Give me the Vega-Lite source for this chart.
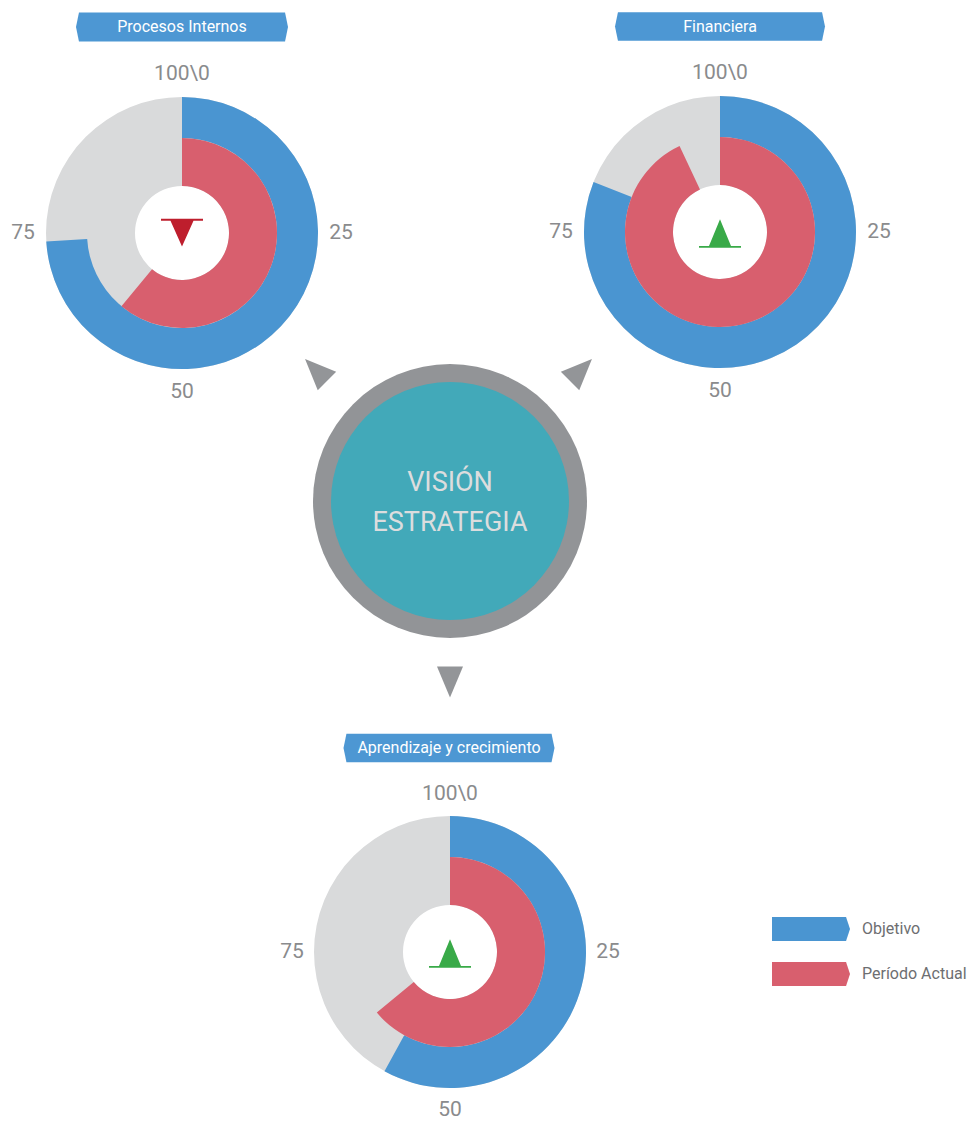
{
  "$schema": "https://vega.github.io/schema/vega-lite/v6.json",
  "width": 974,
  "height": 1121,
  "padding": 0,
  "autosize": "none",
  "background": "white",
  "config": {"view": {"stroke": null}},
  "datasets": {
    "perspectivas": [
      {"perspectiva": "Procesos Internos", "serie": "Objetivo", "valor": 74},
      {"perspectiva": "Procesos Internos", "serie": "Período Actual", "valor": 61},
      {"perspectiva": "Financiera", "serie": "Objetivo", "valor": 81},
      {"perspectiva": "Financiera", "serie": "Período Actual", "valor": 93},
      {"perspectiva": "Aprendizaje y crecimiento", "serie": "Objetivo", "valor": 58},
      {"perspectiva": "Aprendizaje y crecimiento", "serie": "Período Actual", "valor": 64}
    ],
    "indicadores": [
      {"perspectiva": "Procesos Internos", "tendencia": "baja"},
      {"perspectiva": "Financiera", "tendencia": "sube"},
      {"perspectiva": "Aprendizaje y crecimiento", "tendencia": "sube"}
    ],
    "marcas": [
      {"marca": 0, "etiqueta": "100\\0"},
      {"marca": 25, "etiqueta": "25"},
      {"marca": 50, "etiqueta": "50"},
      {"marca": 75, "etiqueta": "75"}
    ],
    "centro": [{"concepto": "VISIÓN ESTRATEGIA"}]
  },
  "layer": [
    {
      "data": {"name": "centro"},
      "encoding": {
        "x": {"datum": 450, "type": "quantitative", "scale": {"domain": [0, 974], "nice": false, "zero": false}, "axis": null},
        "y": {"datum": 501, "type": "quantitative", "scale": {"domain": [0, 1121], "reverse": true, "nice": false, "zero": false}, "axis": null}
      },
      "layer": [
        {"mark": {"type": "arc", "theta": 0, "theta2": 6.2832, "radius": 137, "radius2": 0, "color": "#929497"}},
        {"mark": {"type": "arc", "theta": 0, "theta2": 6.2832, "radius": 119, "radius2": 0, "color": "#42A9B9"}},
        {"mark": {"type": "text", "align": "center", "baseline": "alphabetic", "lineBreak": " ", "lineHeight": 40, "font": "Roboto, Liberation Sans, sans-serif", "fontSize": 27, "color": "#DCDDDE"},
         "encoding": {"y": {"datum": 491, "type": "quantitative"}, "text": {"field": "concepto"}}},
        {"mark": {"type": "point", "shape": "M -0.84 -1 L 0.84 -1 L 0 1 Z", "size": 961, "angle": 135, "filled": true, "opacity": 1, "strokeWidth": 0, "color": "#939598"},
         "encoding": {"x": {"datum": 316, "type": "quantitative"}, "y": {"datum": 370, "type": "quantitative"}}},
        {"mark": {"type": "point", "shape": "M -0.84 -1 L 0.84 -1 L 0 1 Z", "size": 961, "angle": 225, "filled": true, "opacity": 1, "strokeWidth": 0, "color": "#939598"},
         "encoding": {"x": {"datum": 581, "type": "quantitative"}, "y": {"datum": 370, "type": "quantitative"}}},
        {"mark": {"type": "point", "shape": "M -0.84 -1 L 0.84 -1 L 0 1 Z", "size": 961, "angle": 0, "filled": true, "opacity": 1, "strokeWidth": 0, "color": "#939598"},
         "encoding": {"x": {"datum": 450, "type": "quantitative"}, "y": {"datum": 682, "type": "quantitative"}}}
      ]
    },
    {
      "data": {"name": "perspectivas"},
      "encoding": {
        "x": {"datum": 182, "type": "quantitative", "scale": {"domain": [0, 974], "nice": false, "zero": false}, "axis": null},
        "y": {"datum": 233, "type": "quantitative", "scale": {"domain": [0, 1121], "reverse": true, "nice": false, "zero": false}, "axis": null}
      },
      "layer": [
        {"transform": [{"filter": "datum.perspectiva === 'Procesos Internos' && datum.serie === 'Objetivo'"}],
         "mark": {"type": "arc", "theta": 0, "theta2": 6.2832, "radius": 136, "radius2": 47, "color": "#D9DADB"}},
        {"transform": [{"filter": "datum.perspectiva === 'Procesos Internos' && datum.serie === 'Objetivo'"}],
         "mark": {"type": "arc", "radius": 136, "radius2": 95},
         "encoding": {
           "theta": {"field": "valor", "type": "quantitative", "stack": null, "scale": {"domain": [0, 100], "range": [0, 6.283185307179586], "zero": true}},
           "color": {"field": "serie", "type": "nominal", "scale": {"domain": ["Objetivo", "Período Actual"], "range": ["#4A95D1", "#D85F6E"]},
             "legend": {"orient": "none", "legendX": 799, "legendY": 917, "title": null, "symbolType": "M -3.25 -1 L 2.92 -1 L 3.25 0 L 2.92 1 L -3.25 1 Z", "symbolSize": 576, "symbolStrokeWidth": 0, "symbolOpacity": 1, "labelFont": "Roboto, Liberation Sans, sans-serif", "labelFontSize": 16, "labelColor": "#6D6E71", "labelOffset": 39, "rowPadding": 21, "padding": 0}}
         }},
        {"transform": [{"filter": "datum.perspectiva === 'Procesos Internos' && datum.serie === 'Período Actual'"}],
         "mark": {"type": "arc", "radius": 95, "radius2": 47},
         "encoding": {
           "theta": {"field": "valor", "type": "quantitative", "stack": null},
           "color": {"field": "serie", "type": "nominal"}
         }},
        {"data": {"name": "marcas"},
         "mark": {"type": "text", "radius": 159, "align": "center", "baseline": "middle", "font": "Roboto, Liberation Sans, sans-serif", "fontSize": 21, "color": "#8A8B8D"},
         "encoding": {"theta": {"field": "marca", "type": "quantitative"}, "text": {"field": "etiqueta"}}},
        {"transform": [{"filter": "datum.perspectiva === 'Procesos Internos' && datum.serie === 'Objetivo'"}],
         "mark": {"type": "point", "shape": "M -1 0 L -0.972 -0.136 L 0.972 -0.136 L 1 0 L 0.972 0.136 L -0.972 0.136 Z", "size": 44944, "filled": true, "opacity": 1, "strokeWidth": 0, "color": "#4D97D3"},
         "encoding": {"y": {"datum": 27, "type": "quantitative"}}},
        {"transform": [{"filter": "datum.perspectiva === 'Procesos Internos' && datum.serie === 'Objetivo'"}],
         "mark": {"type": "text", "align": "center", "baseline": "middle", "font": "Roboto, Liberation Sans, sans-serif", "fontSize": 16, "color": "white"},
         "encoding": {"y": {"datum": 27, "type": "quantitative"}, "text": {"field": "perspectiva"}}},
        {"data": {"name": "indicadores"},
         "transform": [{"filter": "datum.perspectiva === 'Procesos Internos'"}],
         "mark": {"type": "point", "size": 1764, "filled": true, "opacity": 1, "strokeWidth": 0},
         "encoding": {
           "shape": {"field": "tendencia", "type": "nominal", "scale": {"domain": ["baja", "sube"], "range": ["M -1 -0.676 L 1 -0.676 L 1 -0.581 L -1 -0.581 Z M -0.548 -0.581 L 0.548 -0.581 L 0 0.643 Z", "M 0 -0.605 L 0.524 0.667 L -0.524 0.667 Z M -1 0.667 L 1 0.667 L 1 0.748 L -1 0.748 Z"]}, "legend": null},
           "fill": {"field": "tendencia", "type": "nominal", "scale": {"domain": ["baja", "sube"], "range": ["#BE1E2D", "#39AA48"]}, "legend": null}
         }}
      ]
    },
    {
      "data": {"name": "perspectivas"},
      "encoding": {
        "x": {"datum": 720, "type": "quantitative", "scale": {"domain": [0, 974], "nice": false, "zero": false}, "axis": null},
        "y": {"datum": 232, "type": "quantitative", "scale": {"domain": [0, 1121], "reverse": true, "nice": false, "zero": false}, "axis": null}
      },
      "layer": [
        {"transform": [{"filter": "datum.perspectiva === 'Financiera' && datum.serie === 'Objetivo'"}],
         "mark": {"type": "arc", "theta": 0, "theta2": 6.2832, "radius": 136, "radius2": 47, "color": "#D9DADB"}},
        {"transform": [{"filter": "datum.perspectiva === 'Financiera' && datum.serie === 'Objetivo'"}],
         "mark": {"type": "arc", "radius": 136, "radius2": 95},
         "encoding": {
           "theta": {"field": "valor", "type": "quantitative", "stack": null},
           "color": {"field": "serie", "type": "nominal"}
         }},
        {"transform": [{"filter": "datum.perspectiva === 'Financiera' && datum.serie === 'Período Actual'"}],
         "mark": {"type": "arc", "radius": 95, "radius2": 47},
         "encoding": {
           "theta": {"field": "valor", "type": "quantitative", "stack": null},
           "color": {"field": "serie", "type": "nominal"}
         }},
        {"data": {"name": "marcas"},
         "mark": {"type": "text", "radius": 159, "align": "center", "baseline": "middle", "font": "Roboto, Liberation Sans, sans-serif", "fontSize": 21, "color": "#8A8B8D"},
         "encoding": {"theta": {"field": "marca", "type": "quantitative"}, "text": {"field": "etiqueta"}}},
        {"transform": [{"filter": "datum.perspectiva === 'Financiera' && datum.serie === 'Objetivo'"}],
         "mark": {"type": "point", "shape": "M -1 0 L -0.972 -0.136 L 0.972 -0.136 L 1 0 L 0.972 0.136 L -0.972 0.136 Z", "size": 44100, "filled": true, "opacity": 1, "strokeWidth": 0, "color": "#4D97D3"},
         "encoding": {"y": {"datum": 26.5, "type": "quantitative"}}},
        {"transform": [{"filter": "datum.perspectiva === 'Financiera' && datum.serie === 'Objetivo'"}],
         "mark": {"type": "text", "align": "center", "baseline": "middle", "font": "Roboto, Liberation Sans, sans-serif", "fontSize": 16, "color": "white"},
         "encoding": {"y": {"datum": 26.5, "type": "quantitative"}, "text": {"field": "perspectiva"}}},
        {"data": {"name": "indicadores"},
         "transform": [{"filter": "datum.perspectiva === 'Financiera'"}],
         "mark": {"type": "point", "size": 1764, "filled": true, "opacity": 1, "strokeWidth": 0},
         "encoding": {
           "shape": {"field": "tendencia", "type": "nominal", "legend": null},
           "fill": {"field": "tendencia", "type": "nominal", "legend": null}
         }}
      ]
    },
    {
      "data": {"name": "perspectivas"},
      "encoding": {
        "x": {"datum": 450, "type": "quantitative", "scale": {"domain": [0, 974], "nice": false, "zero": false}, "axis": null},
        "y": {"datum": 952, "type": "quantitative", "scale": {"domain": [0, 1121], "reverse": true, "nice": false, "zero": false}, "axis": null}
      },
      "layer": [
        {"transform": [{"filter": "datum.perspectiva === 'Aprendizaje y crecimiento' && datum.serie === 'Objetivo'"}],
         "mark": {"type": "arc", "theta": 0, "theta2": 6.2832, "radius": 136, "radius2": 47, "color": "#D9DADB"}},
        {"transform": [{"filter": "datum.perspectiva === 'Aprendizaje y crecimiento' && datum.serie === 'Objetivo'"}],
         "mark": {"type": "arc", "radius": 136, "radius2": 95},
         "encoding": {
           "theta": {"field": "valor", "type": "quantitative", "stack": null},
           "color": {"field": "serie", "type": "nominal"}
         }},
        {"transform": [{"filter": "datum.perspectiva === 'Aprendizaje y crecimiento' && datum.serie === 'Período Actual'"}],
         "mark": {"type": "arc", "radius": 95, "radius2": 47},
         "encoding": {
           "theta": {"field": "valor", "type": "quantitative", "stack": null},
           "color": {"field": "serie", "type": "nominal"}
         }},
        {"data": {"name": "marcas"},
         "mark": {"type": "text", "radius": 158, "align": "center", "baseline": "middle", "font": "Roboto, Liberation Sans, sans-serif", "fontSize": 21, "color": "#8A8B8D"},
         "encoding": {"theta": {"field": "marca", "type": "quantitative"}, "text": {"field": "etiqueta"}}},
        {"transform": [{"filter": "datum.perspectiva === 'Aprendizaje y crecimiento' && datum.serie === 'Objetivo'"}],
         "mark": {"type": "point", "shape": "M -1 0 L -0.972 -0.136 L 0.972 -0.136 L 1 0 L 0.972 0.136 L -0.972 0.136 Z", "size": 44521, "filled": true, "opacity": 1, "strokeWidth": 0, "color": "#4D97D3"},
         "encoding": {"x": {"datum": 449, "type": "quantitative"}, "y": {"datum": 748, "type": "quantitative"}}},
        {"transform": [{"filter": "datum.perspectiva === 'Aprendizaje y crecimiento' && datum.serie === 'Objetivo'"}],
         "mark": {"type": "text", "align": "center", "baseline": "middle", "font": "Roboto, Liberation Sans, sans-serif", "fontSize": 16, "color": "white"},
         "encoding": {"x": {"datum": 449, "type": "quantitative"}, "y": {"datum": 748, "type": "quantitative"}, "text": {"field": "perspectiva"}}},
        {"data": {"name": "indicadores"},
         "transform": [{"filter": "datum.perspectiva === 'Aprendizaje y crecimiento'"}],
         "mark": {"type": "point", "size": 1764, "filled": true, "opacity": 1, "strokeWidth": 0},
         "encoding": {
           "shape": {"field": "tendencia", "type": "nominal", "legend": null},
           "fill": {"field": "tendencia", "type": "nominal", "legend": null}
         }}
      ]
    }
  ]
}
